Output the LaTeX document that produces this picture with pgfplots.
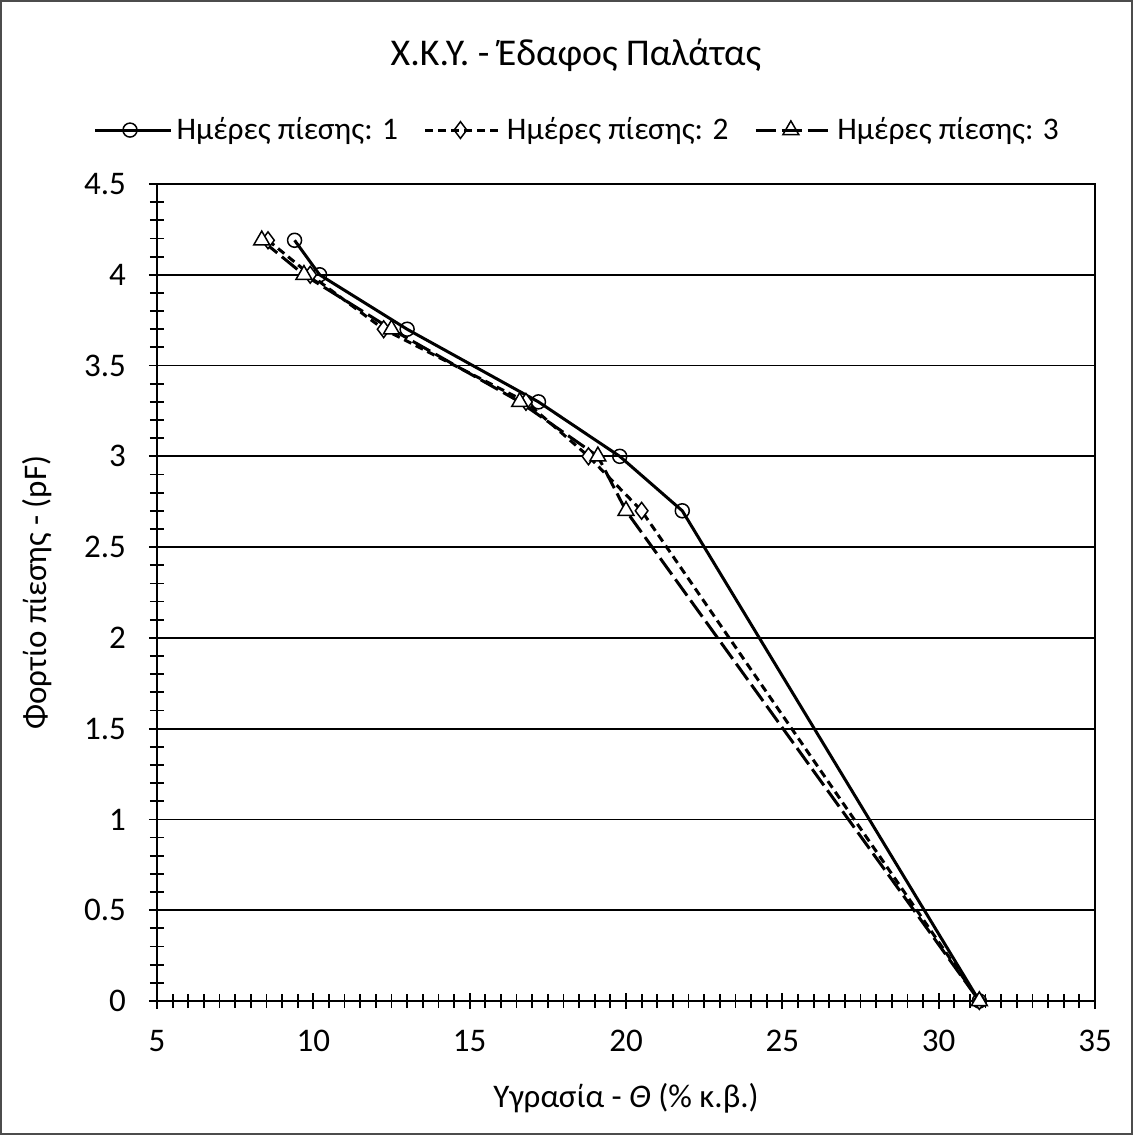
\documentclass[border=0pt]{standalone}
\usepackage{fontspec}
\setmainfont{Carlito}
\usepackage{pgfplots}
\pgfplotsset{compat=1.18}

\begin{document}
\begin{tikzpicture}
\begin{axis}[
  at={(0pt,0pt)}, anchor=south west,
  scale only axis, width=469pt, height=408.5pt,
  xmin=5, xmax=35, ymin=0, ymax=4.5,
  xtick={5,10,...,35}, ytick={0,0.5,...,4.5},
  minor x tick num=9, minor y tick num=4,
  tick pos=left, tick align=center,
  major tick length=8pt, minor tick length=7pt,
  tick style={black, line width=0.9pt},
  ymajorgrids, grid style={black, line width=0.9pt},
  axis line style={line width=1.1pt},
  /pgf/number format/assume math mode=true,
  font=\fontsize{16.5}{19}\selectfont,
  xticklabel style={anchor=center, yshift=-16pt},
  yticklabel style={anchor=east, xshift=-8pt},
  xlabel={Υγρασία - \textit{Θ} (\% κ.β.)},
  ylabel={Φορτίο πίεσης - (pF)},
  xlabel style={at={(axis description cs:0.5,-0.1187)}, anchor=center},
  ylabel style={at={(axis description cs:-0.128,0.5)}, anchor=center},
  legend columns=3,
  legend style={draw=none, fill=none, at={(axis description cs:0.449,1.066)}, anchor=center,
    /tikz/every even column/.append style={column sep=11pt},
    font=\fontsize{15.7}{18}\selectfont},
  legend image code/.code={\draw[mark repeat=2,mark phase=2] plot coordinates {(0pt,0pt) (17.5pt,0pt) (35pt,0pt)};
    \path (0pt,0pt) -- (38pt,0pt);},
]
\addplot[black, line width=1.5pt, mark=o, mark size=3.5pt, mark options={solid, line width=0.75pt}]
  coordinates {(9.4,4.19) (10.2,4.0) (13.0,3.7) (17.2,3.3) (19.8,3.0) (21.8,2.7) (31.3,0)};
\addplot[black, line width=1.5pt, dash pattern=on 4pt off 2.5pt, mark=diamond*, mark size=4.2pt, mark options={solid, fill=white, line width=0.75pt}]
  coordinates {(8.55,4.19) (9.9,4.0) (12.25,3.7) (16.8,3.3) (18.8,3.0) (20.5,2.7) (31.3,0)};
\addplot[black, line width=1.5pt, dash pattern=on 10pt off 3pt, mark=triangle*, mark size=4.6pt, mark options={solid, fill=white, line width=0.75pt}]
  coordinates {(8.35,4.19) (9.7,4.0) (12.5,3.7) (16.6,3.3) (19.1,3.0) (20.0,2.7) (31.3,0)};
\legend{Ημέρες πίεσης: 1, Ημέρες πίεσης: 2, Ημέρες πίεσης: 3}
\end{axis}
\node[font=\fontsize{18.9}{22}\selectfont] at (209.5pt,473pt) {Χ.Κ.Υ. - Έδαφος Παλάτας};
\draw[black!70, line width=0.8pt] (-78.1pt,-66.6pt) rectangle (487.6pt,500.1pt);
\pgfresetboundingbox
\useasboundingbox (-78.5pt,-67pt) rectangle (488pt,500.5pt);
\end{tikzpicture}
\end{document}
